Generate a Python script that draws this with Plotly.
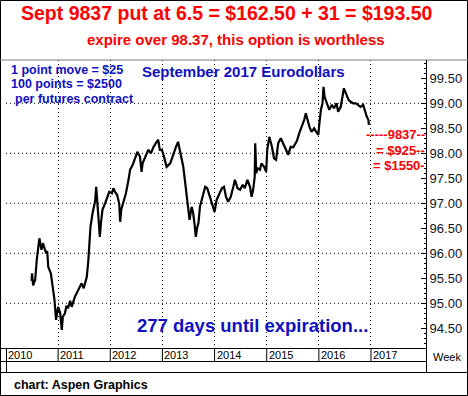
import plotly.graph_objects as go

# ---- data (decimal year, weekly price) ----
years = [
    2010.49, 2010.50, 2010.52, 2010.56, 2010.59, 2010.62, 2010.64, 2010.68, 2010.71, 2010.73,
    2010.77, 2010.79, 2010.81, 2010.86, 2010.90, 2010.93, 2010.96, 2010.98, 2011.00, 2011.04,
    2011.07, 2011.09, 2011.13, 2011.16, 2011.19, 2011.23, 2011.26, 2011.32, 2011.39, 2011.45,
    2011.49, 2011.52, 2011.55, 2011.58, 2011.60, 2011.62, 2011.66, 2011.69, 2011.71, 2011.73,
    2011.75, 2011.77, 2011.80, 2011.82, 2011.85, 2011.90, 2011.94, 2011.98, 2012.03, 2012.06,
    2012.09, 2012.13, 2012.17, 2012.19, 2012.21, 2012.25, 2012.30, 2012.35, 2012.38, 2012.43,
    2012.47, 2012.52, 2012.57, 2012.60, 2012.62, 2012.67, 2012.73, 2012.78, 2012.83, 2012.89,
    2012.92, 2012.95, 2012.99, 2013.02, 2013.08, 2013.15, 2013.21, 2013.26, 2013.30, 2013.35,
    2013.40, 2013.43, 2013.47, 2013.50, 2013.52, 2013.56, 2013.59, 2013.62, 2013.64, 2013.67,
    2013.69, 2013.72, 2013.77, 2013.82, 2013.86, 2013.91, 2013.96, 2014.00, 2014.04, 2014.09,
    2014.14, 2014.18, 2014.22, 2014.26, 2014.31, 2014.36, 2014.39, 2014.44, 2014.49, 2014.54,
    2014.58, 2014.63, 2014.68, 2014.71, 2014.74, 2014.77, 2014.78, 2014.80, 2014.82, 2014.87,
    2014.90, 2014.95, 2014.99, 2015.01, 2015.05, 2015.10, 2015.14, 2015.18, 2015.22, 2015.27,
    2015.32, 2015.37, 2015.41, 2015.46, 2015.51, 2015.58, 2015.63, 2015.67, 2015.72, 2015.75,
    2015.78, 2015.82, 2015.86, 2015.91, 2015.95, 2015.99, 2016.01, 2016.04, 2016.07, 2016.09,
    2016.11, 2016.15, 2016.20, 2016.25, 2016.29, 2016.34, 2016.37, 2016.42, 2016.46, 2016.48,
    2016.52, 2016.57, 2016.61, 2016.66, 2016.71, 2016.76, 2016.80, 2016.85, 2016.89, 2016.92,
    2016.95, 2016.96,
]
prices = [
    95.45, 95.60, 95.36, 95.47, 95.87, 96.10, 96.30, 96.07, 96.20, 96.13,
    96.00, 96.05, 95.73, 95.60, 95.33, 95.07, 94.67, 94.87, 94.93, 94.80,
    94.47, 94.73, 94.80, 94.95, 94.90, 95.05, 94.93, 95.13, 95.27, 95.40,
    95.30, 95.43, 95.53, 95.87, 96.27, 96.53, 96.80, 96.93, 97.05, 97.33,
    97.05, 96.87, 96.33, 96.60, 96.87, 97.00, 97.13, 97.23, 97.20, 97.30,
    97.23, 97.17, 97.00, 96.63, 96.87, 97.00, 97.20, 97.47, 97.67, 97.77,
    97.87, 98.03, 97.93, 97.63, 97.80, 97.93, 98.07, 98.00, 98.13, 98.23,
    98.27, 98.07, 98.07, 97.97, 97.73, 97.80, 98.00, 98.13, 98.23, 98.00,
    97.73, 97.47, 97.13, 96.87, 96.67, 96.93, 96.80, 96.55, 96.33, 96.53,
    96.60, 96.93, 97.13, 97.33, 97.30, 97.13, 96.93, 96.83, 97.07, 97.20,
    97.30, 97.33, 97.13, 97.03, 97.13, 97.33, 97.47, 97.30, 97.27, 97.37,
    97.30, 97.47, 97.33, 97.13, 97.27, 97.53, 98.20, 97.60, 97.70, 97.67,
    97.80, 97.73, 97.63, 98.07, 98.33, 98.13, 97.90, 97.87, 98.20, 98.30,
    98.20, 98.07, 97.97, 98.13, 98.12, 98.25, 98.42, 98.53, 98.67, 98.80,
    98.67, 98.53, 98.43, 98.50, 98.43, 98.37, 98.60, 98.87, 99.00, 99.33,
    99.13, 99.00, 98.87, 98.97, 98.90, 99.00, 98.83, 98.93, 99.20, 99.30,
    99.20, 99.07, 99.03, 99.00, 99.00, 98.97, 98.93, 98.97, 98.80, 98.73,
    98.67, 98.57,
]

year_labels = ["2010", "2011", "2012", "2013", "2014", "2015", "2016", "2017"]
year_starts = [2010, 2011, 2012, 2013, 2014, 2015, 2016, 2017]
price_ticks = [94.5, 95.0, 95.5, 96.0, 96.5, 97.0, 97.5, 98.0, 98.5, 99.0, 99.5]
price_tick_text = ["94.50", "95.00", "95.50", "96.00", "96.50", "97.00", "97.50",
                   "98.00", "98.50", "99.00", "99.50"]
grid_levels = [95.0, 96.0, 97.0, 98.0, 99.0]
strike_level = 98.37

W, H = 468, 396
FONT = "Liberation Sans, Arial, sans-serif"
RED = "#FF0000"
BLUE = "#1010C0"


def px(x):
    return x / W


def py(y):
    return 1 - y / H


fig = go.Figure()
fig.add_trace(go.Scatter(x=years, y=prices, mode="lines",
                         line=dict(color="black", width=2.2), hoverinfo="skip",
                         showlegend=False))

shapes = []
line_k = dict(color="black", width=1)
# outer frame
shapes.append(dict(type="rect", xref="paper", yref="paper",
                   x0=px(0.5), x1=px(467.5), y0=py(395.5), y1=py(0.5), line=line_k))
# title separator
shapes.append(dict(type="line", xref="paper", yref="paper",
                   x0=0, x1=1, y0=py(60), y1=py(60), line=dict(color="#808080", width=1)))
# right axis full line
shapes.append(dict(type="line", xref="paper", yref="paper",
                   x0=px(426.5), x1=px(426.5), y0=py(60), y1=py(372), line=line_k))
# x-axis rows
for yy, x1 in [(348.5, 426.5), (361.5, 426.5), (372.5, 467.5)]:
    shapes.append(dict(type="line", xref="paper", yref="paper",
                       x0=0, x1=px(x1), y0=py(yy), y1=py(yy), line=line_k))
shapes.append(dict(type="line", xref="paper", yref="paper",
                   x0=px(6.5), x1=px(6.5), y0=py(348), y1=py(372), line=line_k))
# year dividers in the axis row
for ys in year_starts:
    shapes.append(dict(type="line", xref="x", yref="paper",
                       x0=ys, x1=ys, y0=py(348), y1=py(361.5), line=line_k))
# horizontal dotted grid
for g in grid_levels:
    shapes.append(dict(type="line", xref="paper", yref="y",
                       x0=px(6), x1=px(426), y0=g, y1=g,
                       line=dict(color="black", width=1, dash="1px,3px"), layer="below"))

annotations = []
annotations.append(dict(text="<b>Sept 9837 put at 6.5 = $162.50 + 31 = $193.50</b>",
                        xref="paper", yref="paper", x=px(227), y=py(12.5),
                        xanchor="center", yanchor="middle", showarrow=False,
                        font=dict(family=FONT, size=19.5, color=RED)))
annotations.append(dict(text="<b>expire over 98.37, this option is worthless</b>",
                        xref="paper", yref="paper", x=px(235.5), y=py(39),
                        xanchor="center", yanchor="middle", showarrow=False,
                        font=dict(family=FONT, size=15, color=RED)))
annotations.append(dict(text="<b>September 2017 Eurodollars</b>",
                        xref="paper", yref="paper", x=px(243.5), y=py(71),
                        xanchor="center", yanchor="middle", showarrow=False,
                        font=dict(family=FONT, size=15, color=BLUE)))
for txt, xx, yy in [("1 point move = $25", 9, 70), ("100 points = $2500", 9, 84.5),
                    ("per futures contract", 12.5, 99)]:
    annotations.append(dict(text="<b>" + txt + "</b>", xref="paper", yref="paper",
                            x=px(xx), y=py(yy), xanchor="left", yanchor="middle",
                            showarrow=False, font=dict(family=FONT, size=12.5, color=BLUE)))
annotations.append(dict(text="<b>277 days until expiration...</b>",
                        xref="paper", yref="paper", x=px(252), y=py(325),
                        xanchor="center", yanchor="middle", showarrow=False,
                        font=dict(family=FONT, size=18.5, color=BLUE)))
annotations.append(dict(text="<b>chart: Aspen Graphics</b>",
                        xref="paper", yref="paper", x=px(12), y=py(385),
                        xanchor="left", yanchor="middle", showarrow=False,
                        font=dict(family=FONT, size=12.5, color="black")))
for lab, ys in zip(year_labels, year_starts):
    annotations.append(dict(text=lab, xref="x", yref="paper", x=ys, y=py(355),
                            xanchor="left", yanchor="middle", xshift=0, showarrow=False,
                            font=dict(family=FONT, size=11, color="black")))
annotations.append(dict(text="Week", xref="paper", yref="paper", x=px(431), y=py(356.5),
                        xanchor="left", yanchor="middle", showarrow=False,
                        font=dict(family=FONT, size=11, color="black")))
# red strike annotations
annotations.append(dict(text="<b>-----9837--</b>", xref="paper", yref="y",
                        x=px(427), y=strike_level, xanchor="right", yanchor="middle",
                        showarrow=False, font=dict(family=FONT, size=13, color=RED)))
annotations.append(dict(text="<b>= $925--</b>", xref="paper", yref="paper",
                        x=px(427), y=py(150.5), xanchor="right", yanchor="middle",
                        showarrow=False, font=dict(family=FONT, size=13, color=RED)))
annotations.append(dict(text="<b>= $1550-</b>", xref="paper", yref="paper",
                        x=px(427), y=py(166), xanchor="right", yanchor="middle",
                        showarrow=False, font=dict(family=FONT, size=13, color=RED)))

fig.update_layout(
    width=W, height=H,
    margin=dict(l=0, r=0, t=0, b=0, autoexpand=False),
    paper_bgcolor="white", plot_bgcolor="white",
    showlegend=False,
    shapes=shapes, annotations=annotations,
    xaxis=dict(domain=[px(6), px(426)], range=[2010.0, 2018.055],
               tickvals=year_starts, showticklabels=False, ticks="",
               showgrid=True, gridcolor="black", gridwidth=1, griddash="1px,3px",
               zeroline=False, showline=False, fixedrange=True),
    yaxis=dict(domain=[py(348), py(60)], range=[94.106, 99.866], side="right",
               tickvals=price_ticks, ticktext=price_tick_text,
               ticks="inside", ticklen=5, tickcolor="black", tickwidth=1,
               minor=dict(dtick=0.1, tick0=0, ticks="inside", ticklen=2,
                          tickcolor="black", tickwidth=1, showgrid=False),
               showgrid=False, zeroline=False, showline=True, linecolor="black",
               linewidth=1, tickfont=dict(family=FONT, size=13, color="#111122"),
               fixedrange=True),
)

fig.write_html("out.html", config={"displayModeBar": False},
               post_script="document.body.style.margin='0';document.body.style.padding='0';")
